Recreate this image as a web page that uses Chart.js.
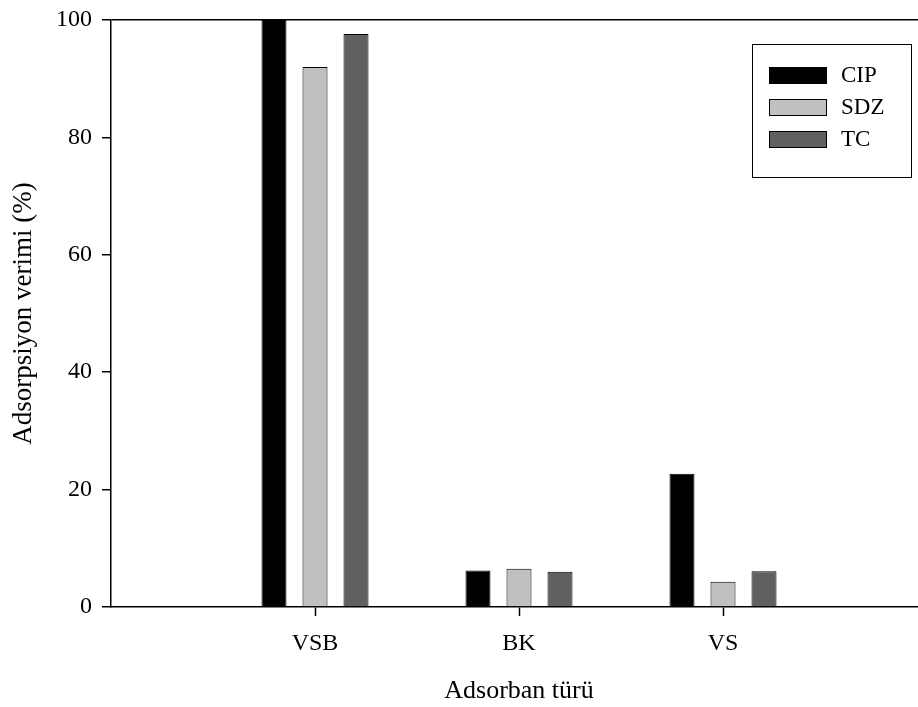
<!DOCTYPE html>
<html>
<head>
<meta charset="utf-8">
<script src="https://cdn.jsdelivr.net/npm/chart.js@4/dist/chart.umd.min.js"></script>
<style>
  html, body { margin: 0; padding: 0; background: #fff; overflow: hidden; }
  canvas { display: block; }
</style>
</head>
<body>
<canvas id="chart" width="927" height="707"></canvas>
<script>
// data
const categories = ["VSB", "BK", "VS"];
const seriesNames = ["CIP", "SDZ", "TC"];
const cipValues = [100, 6.2, 22.7];
const sdzValues = [92.0, 6.5, 4.3];
const tcValues = [97.6, 6.0, 6.1];
const yTicks = [0, 20, 40, 60, 80, 100];

const FONT = "'Liberation Serif', 'Times New Roman', serif";

// blank slot on each side, like the original x range
const labels = [""].concat(categories, [""]);
const pad = arr => [null].concat(arr, [null]);

// legend drawn inside the plot, top right
const boxLegend = {
  id: "boxLegend",
  afterDraw(chart) {
    const c = chart.ctx;
    c.save();
    c.strokeStyle = "#000";
    c.lineWidth = 1;
    c.strokeRect(752.5, 44.5, 159, 133);
    c.font = "23px " + FONT;
    c.textBaseline = "middle";
    chart.data.datasets.forEach((ds, i) => {
      const y = 67 + i * 32;
      c.fillStyle = ds.backgroundColor;
      c.fillRect(769, y, 58, 17);
      c.strokeRect(769.5, y + 0.5, 57, 16);
      c.fillStyle = "#000";
      c.fillText(ds.label, 841, y + 9);
    });
    c.restore();
  }
};

const colors = ["#000000", "#c0c0c0", "#606060"];
const values = [cipValues, sdzValues, tcValues];

new Chart(document.getElementById("chart"), {
  type: "bar",
  data: {
    labels: labels,
    datasets: seriesNames.map((name, i) => ({
      label: name,
      data: pad(values[i]),
      backgroundColor: colors[i],
      borderColor: "#000",
      borderWidth: 1,
      categoryPercentage: 0.603,
      barPercentage: 0.61
    }))
  },
  options: {
    responsive: false,
    animation: false,
    layout: { padding: { top: 20, right: 0, left: 0, bottom: 0 } },
    plugins: { legend: { display: false }, tooltip: { enabled: false } },
    scales: {
      x: {
        offset: false,
        afterFit: s => { s.height = 100; s.paddingLeft = 0; s.paddingRight = 0; },
        border: { color: "#000", width: 1.5 },
        grid: {
          offset: false,
          drawOnChartArea: false,
          tickLength: 9,
          tickWidth: 1.5,
          tickColor: ctx => (ctx.index === 0 || ctx.index === labels.length - 1) ? "transparent" : "#000"
        },
        ticks: { color: "#000", font: { family: FONT, size: 24 }, padding: 13, maxRotation: 0, autoSkip: false },
        title: { display: true, text: "Adsorban türü", color: "#000", font: { family: FONT, size: 26 }, padding: { top: 1, bottom: 0 } }
      },
      y: {
        min: 0,
        max: 100,
        afterFit: s => { s.width = 111; s.paddingTop = 0; s.paddingBottom = 0; },
        afterBuildTicks: s => { s.ticks = yTicks.map(v => ({ value: v })); },
        border: { color: "#000", width: 1.5 },
        grid: {
          tickLength: 9,
          tickWidth: 1.5,
          tickColor: "#000",
          lineWidth: 1.5,
          color: ctx => (ctx.tick && ctx.tick.value === 100) ? "#000" : "transparent"
        },
        ticks: { color: "#000", font: { family: FONT, size: 24 }, padding: 10 },
        title: { display: true, text: "Adsorpsiyon verimi (%)", color: "#000", font: { family: FONT, size: 27 }, padding: { top: 8, bottom: 0 } }
      }
    }
  },
  plugins: [boxLegend]
});
</script>
</body>
</html>
